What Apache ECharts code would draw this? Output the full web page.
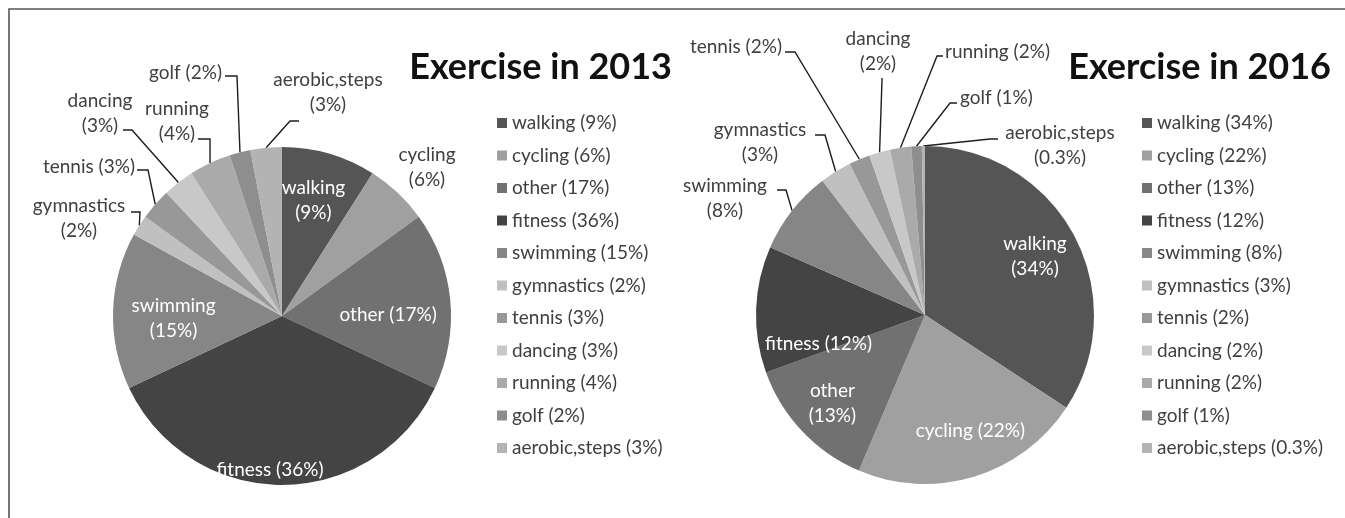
<!DOCTYPE html>
<html><head><meta charset="utf-8">
<script src="https://cdn.jsdelivr.net/npm/echarts@6/dist/echarts.min.js"></script>
<style>html,body{margin:0;padding:0;background:#fff}#c{width:1345px;height:518px}</style>
</head><body><div id="c"></div>
<script>
// ---- data ----
const categories = ['walking','cycling','other','fitness','swimming','gymnastics','tennis','dancing','running','golf','aerobic,steps'];
const values2013 = [9,6,17,36,15,2,3,3,4,2,3];
const values2016 = [34,22,13,12,8,3,2,2,2,1,0.3];
const titles = ['Exercise in 2013','Exercise in 2016'];

// ---- style ----
const colors = ['#555555','#a0a0a0','#717171','#444444','#868686','#c0c0c0','#989898','#c8c8c8','#aaaaaa','#8e8e8e','#b3b3b3'];
const FONT = 'Lato';
const FS = 19;

// label layout (positions of label texts and leader-line elbows, in px)
const layoutA = {
  'walking': {inside:true, br:true, dx:7, dy:-32},
  'other': {inside:true, dx:19, dy:7},
  'fitness': {inside:true, dx:-12, dy:66},
  'swimming': {inside:true, br:true, dx:-21, dy:5},
  'cycling': {br:true, x:427, y:167, noLine:true},
  'gymnastics': {br:true, x:79, y:218, elbow:[140,212], end:[131,212]},
  'tennis': {x:135, y:167, align:'right', elbow:[148,170], end:[137,170]},
  'dancing': {br:true, x:100, y:113, elbow:[132,130], end:[123,130]},
  'running': {br:true, x:177, y:121, elbow:[210,139], end:[198,139]},
  'golf': {x:222, y:73, align:'right', elbow:[237,76], end:[225,76]},
  'aerobic,steps': {br:true, x:328, y:92, elbow:[290,121], end:[299,121]}
};
const layoutB = {
  'walking': {inside:true, br:true, dx:33, dy:-17},
  'cycling': {inside:true, dx:20, dy:32},
  'other': {inside:true, br:true, dx:-29, dy:28},
  'fitness': {inside:true, dx:-19, dy:32},
  'swimming': {br:true, x:725, y:198, elbow:[786,190], end:[777,190]},
  'gymnastics': {br:true, x:760, y:142, elbow:[825,135], end:[815,135]},
  'tennis': {x:782, y:47, align:'right', elbow:[795,52], end:[785,52]},
  'dancing': {br:true, x:878, y:51, elbow:[882,80], end:[882,78]},
  'running': {x:945, y:52, align:'left', elbow:[937,56], end:[943,56]},
  'golf': {x:960, y:98, align:'left', elbow:[950,103], end:[957,103]},
  'aerobic,steps': {br:true, x:1060, y:145, elbow:[990,139], end:[998,139]}
};

function makeData(vals, spec) {
  return categories.map((n, i) => {
    const s = spec[n];
    return {
      name: n, value: vals[i],
      label: {position: s.inside ? 'inside' : 'outside', color: s.inside ? '#ffffff' : '#404040'},
      labelLine: {show: !s.inside && !s.noLine}
    };
  });
}
function makeLayout(spec) {
  return function (p) {
    const s = spec[categories[p.dataIndex]];
    if (!s) return {};
    if (s.inside) return {dx: s.dx, dy: s.dy};
    const o = {x: s.x, y: s.y, align: s.align || 'center', verticalAlign: 'middle'};
    if (!s.noLine && p.labelLinePoints) {
      const p0 = p.labelLinePoints[0];
      o.labelLinePoints = [[p0[0], p0[1]], s.elbow, s.end];
    }
    return o;
  };
}
function makeSeries(vals, spec, center) {
  return {
    type: 'pie', center: center, radius: 169, startAngle: 90, clockwise: true,
    avoidLabelOverlap: false, emphasis: {disabled: true},
    itemStyle: {borderWidth: 0},
    label: {
      fontFamily: FONT, fontSize: FS, lineHeight: 25,
      formatter: p => p.name + (spec[p.name].br ? '\n' : ' ') + '(' + p.value + '%)'
    },
    labelLine: {lineStyle: {color: '#1e1e1e', width: 1.4}},
    labelLayout: makeLayout(spec),
    data: makeData(vals, spec)
  };
}
function legendOf(vals, left) {
  return {
    orient: 'vertical', left: left, top: 107, itemGap: 10.5,
    itemWidth: 10, itemHeight: 10, icon: 'rect', selectedMode: false,
    textStyle: {fontFamily: FONT, fontSize: FS, color: '#404040', lineHeight: 22},
    data: categories,
    formatter: n => n + ' (' + vals[categories.indexOf(n)] + '%)'
  };
}

const chart = echarts.init(document.getElementById('c'), null, {renderer: 'canvas'});
chart.setOption({
  animation: false,
  color: colors,
  title: [
    {text: titles[0], right: 673, top: 49, padding: 0, textStyle: {fontFamily: FONT, fontSize: 36, fontWeight: 'bold', color: '#111'}},
    {text: titles[1], right: 14, top: 49, padding: 0, textStyle: {fontFamily: FONT, fontSize: 36, fontWeight: 'bold', color: '#111'}}
  ],
  legend: [legendOf(values2013, 492), legendOf(values2016, 1137)],
  graphic: [{type: 'rect', shape: {x: 9, y: 9, width: 1400, height: 600}, style: {fill: 'none', stroke: '#555', lineWidth: 1.6}, silent: true}],
  series: [
    makeSeries(values2013, layoutA, [282, 316]),
    makeSeries(values2016, layoutB, [925, 315])
  ]
});
</script></body></html>
